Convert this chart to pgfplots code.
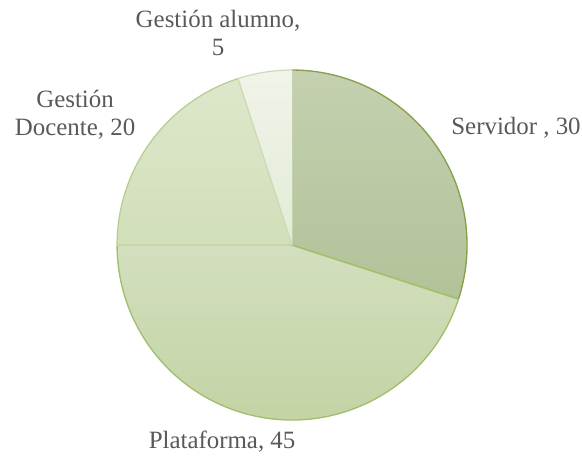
\documentclass[border=0pt]{standalone}
\usepackage{pgfplots}
\usepackage{pgfplotstable}
\usepackage{fontspec}
\setmainfont{Liberation Serif}
\pgfplotsset{compat=1.18}
\definecolor{lbl}{HTML}{595959}
\definecolor{sTop}{HTML}{C4D0AF}
\definecolor{sBot}{HTML}{B2C298}
\definecolor{sBrd}{HTML}{86A04B}
\definecolor{pTop}{HTML}{D3DFBE}
\definecolor{pBot}{HTML}{C1D2A2}
\definecolor{pBrd}{HTML}{A3BF6E}
\definecolor{dTop}{HTML}{DDE7CA}
\definecolor{dBot}{HTML}{D2DFBA}
\definecolor{dBrd}{HTML}{B5CD8E}
\definecolor{aTop}{HTML}{F0F4E9}
\definecolor{aBot}{HTML}{E3EBD6}
\definecolor{aBrd}{HTML}{CCDBB5}
\pgfplotstableread{
name value
Servidor 30
Plataforma 45
Docente 20
Alumno 5
}\piedata
\begin{document}
\begin{tikzpicture}
\pgfplotstablegetelem{0}{value}\of\piedata\let\vS\pgfplotsretval
\pgfplotstablegetelem{1}{value}\of\piedata\let\vP\pgfplotsretval
\pgfplotstablegetelem{2}{value}\of\piedata\let\vD\pgfplotsretval
\pgfplotstablegetelem{3}{value}\of\piedata\let\vA\pgfplotsretval
\pgfmathsetmacro{\tot}{\vS+\vP+\vD+\vA}
\pgfmathsetmacro{\aA}{90}
\pgfmathsetmacro{\aB}{\aA-360*\vS/\tot}
\pgfmathsetmacro{\aC}{\aB-360*\vP/\tot}
\pgfmathsetmacro{\aD}{\aC-360*\vD/\tot}
\pgfmathsetmacro{\aE}{\aD-360*\vA/\tot}
\begin{axis}[
  at={(0,0)}, anchor=south west,
  x=130pt, y=130pt,
  scale only axis,
  hide axis,
  clip=false,
  xmin=-1.669, xmax=1.657,
  ymin=-1.223, ymax=1.4,
]
\addplot[draw=none] coordinates {(0,0)};
% Plataforma
\shade[top color=pTop, bottom color=pBot] (axis cs:0,0) -- (axis cs:{cos(\aB)},{sin(\aB)}) arc[start angle=\aB, end angle=\aC, radius=130pt] -- cycle;
\draw[pBrd, line width=1pt] (axis cs:{cos(\aB)},{sin(\aB)}) arc[start angle=\aB, end angle=\aC, radius=130pt];
% Docente
\shade[top color=dTop, bottom color=dBot] (axis cs:0,0) -- (axis cs:{cos(\aC)},{sin(\aC)}) arc[start angle=\aC, end angle=\aD, radius=130pt] -- cycle;
\draw[dBrd, line width=0.9pt] (axis cs:{cos(\aC)},{sin(\aC)}) arc[start angle=\aC, end angle=\aD, radius=130pt];
\draw[dBrd!80!white, line width=1pt] (axis cs:0,0) -- (axis cs:{cos(\aC)},{sin(\aC)});
% Alumno
\shade[top color=aTop, bottom color=aBot] (axis cs:0,0) -- (axis cs:{cos(\aD)},{sin(\aD)}) arc[start angle=\aD, end angle=\aE, radius=130pt] -- cycle;
\draw[aBrd, line width=0.9pt] (axis cs:{cos(\aD)},{sin(\aD)}) arc[start angle=\aD, end angle=\aE, radius=130pt];
\draw[aBrd, line width=1pt] (axis cs:0,0) -- (axis cs:{cos(\aD)},{sin(\aD)});
% Servidor
\shade[top color=sTop, bottom color=sBot] (axis cs:0,0) -- (axis cs:{cos(\aA)},{sin(\aA)}) arc[start angle=\aA, end angle=\aB, radius=130pt] -- cycle;
\draw[sBrd, line width=1pt] (axis cs:{cos(\aA)},{sin(\aA)}) arc[start angle=\aA, end angle=\aB, radius=130pt];
\draw[pBrd, line width=1.2pt] (axis cs:0,0) -- (axis cs:{cos(\aB)},{sin(\aB)});
\draw[aBrd!70!sBot, line width=0.8pt] (axis cs:0,0) -- (axis cs:{cos(\aA)},{sin(\aA)});
% labels
\node[lbl, font=\fontsize{18.5}{20.5}\selectfont, align=center] at (axis cs:-0.423,1.211) {Gestión alumno,\\5};
\node[lbl, font=\fontsize{18.5}{20.5}\selectfont, align=center] at (axis cs:-1.24,0.743) {Gestión\\Docente, 20};
\node[lbl, font=\fontsize{18.5}{20.5}\selectfont, align=center] at (axis cs:1.28,0.669) {Servidor , 30};
\node[lbl, font=\fontsize{18.5}{20.5}\selectfont, align=center] at (axis cs:-0.4,-1.126) {Plataforma, 45};
\end{axis}
\pgfresetboundingbox
\path (0,0) rectangle (432.38pt,341pt);
\end{tikzpicture}
\end{document}
